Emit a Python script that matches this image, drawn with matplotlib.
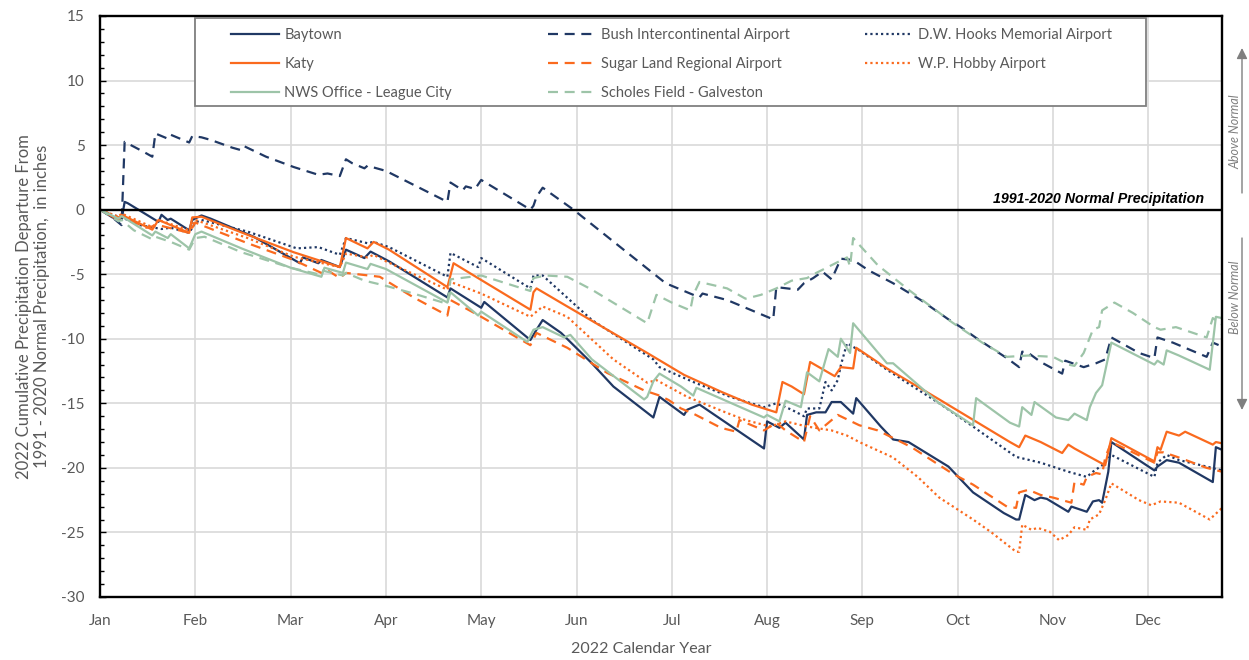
import matplotlib
matplotlib.use("Agg")
import matplotlib.pyplot as plt
from matplotlib.ticker import MultipleLocator
from matplotlib.patches import Rectangle
from matplotlib.legend import Legend

plt.rcParams['font.family'] = ['Lato', 'DejaVu Sans']
plt.rcParams['axes.unicode_minus'] = False

# day of year (0 = Jan 1) and departure from normal, inches
baytown_days = [0, 4, 7, 8, 9, 19, 20, 22, 23, 29, 30, 33, 36, 50, 65, 66, 71, 72, 78, 80, 86, 88, 94,
                113, 114, 124, 125, 140, 142, 144, 150, 160, 167, 180, 182, 190, 191, 195, 216, 217,
                221, 223, 229, 230, 233, 236, 238, 241, 245, 246, 254, 258, 263, 276, 284, 294, 298,
                299, 301, 304, 306, 308, 315, 316, 321, 323, 325, 326, 328, 329, 343, 344, 347, 351,
                362, 363, 365]
baytown = [0, -0.6, -0.8, 0.6, 0.5, -0.95, -0.4, -0.8, -0.7, -1.6, -0.8, -0.45, -0.7, -2.1, -4.15, -3.7,
           -4.15, -3.9, -4.45, -3.1, -3.75, -3.25, -4.0, -6.8, -6.1, -7.6, -7.15, -10.1, -9.3, -8.55,
           -9.55, -11.9, -13.7, -16.1, -14.5, -15.9, -15.5, -15.1, -18.5, -16.4, -16.9, -16.5, -17.8,
           -15.9, -15.7, -15.7, -14.9, -14.9, -15.8, -14.6, -16.8, -17.8, -18.0, -19.9, -21.9, -23.5,
           -24.0, -24.0, -22.1, -22.5, -22.3, -22.4, -23.4, -23.0, -23.4, -22.6, -22.5, -22.7, -20.3,
           -18.0, -20.2, -19.9, -19.4, -19.6, -21.1, -18.4, -18.6]

bush_days = [0, 4, 7, 8, 14, 17, 18, 22, 23, 29, 30, 33, 36, 43, 46, 47, 54, 63, 71, 74, 78, 80, 82, 86,
             87, 93, 113, 114, 118, 119, 122, 124, 140, 141, 142, 144, 154, 184, 195, 196, 204, 219,
             220, 227, 229, 232, 235, 238, 241, 245, 250, 258, 267, 276, 280, 286, 295, 299, 300, 302,
             306, 313, 314, 320, 324, 327, 329, 338, 343, 344, 349, 360, 362, 365]
bush = [0, -0.6, -1.2, 5.25, 4.5, 4.1, 5.9, 5.5, 5.8, 5.2, 5.7, 5.6, 5.4, 4.8, 4.6, 4.9, 4.1, 3.3, 2.7,
        2.8, 2.6, 3.9, 3.6, 3.2, 3.4, 3.0, 0.6, 2.1, 1.5, 1.8, 1.6, 2.3, 0.0, 0.3, 1.0, 1.7, 0.0, -5.7,
        -6.8, -6.5, -7.0, -8.5, -6.0, -6.2, -5.7, -5.3, -4.8, -5.4, -3.8, -3.9, -4.7, -5.7, -7.0, -8.5,
        -9.1, -10.1, -11.5, -12.2, -11.0, -11.1, -11.8, -12.7, -11.7, -12.2, -11.9, -11.6, -9.9, -11.1,
        -11.5, -9.9, -10.3, -11.4, -10.3, -10.6]

hooks_days = [0, 4, 7, 13, 20, 23, 29, 31, 33, 48, 64, 71, 78, 80, 87, 89, 94, 113, 114, 123, 124, 140,
              141, 144, 160, 180, 182, 193, 205, 216, 220, 225, 229, 230, 234, 236, 238, 240, 241, 243,
              247, 256, 273, 284, 298, 306, 315, 321, 323, 326, 329, 343, 344, 347, 351, 360, 365]
hooks = [0, -0.4, -0.6, -1.2, -1.5, -1.4, -1.8, -1.0, -0.8, -1.7, -3.0, -2.9, -3.5, -2.2, -2.6, -2.5,
         -2.9, -5.2, -3.35, -4.45, -3.75, -6.1, -5.1, -5.1, -8.55, -11.6, -12.2, -13.35, -14.5, -15.3,
         -15.0, -15.5, -16.0, -15.4, -15.4, -13.35, -14.0, -13.2, -12.05, -10.35, -10.9, -12.4, -15.0,
         -16.8, -19.15, -19.6, -20.3, -20.7, -20.3, -19.8, -19.0, -20.7, -19.6, -19.0, -19.4, -19.9,
         -20.2]

katy_days = [0, 6, 7, 17, 19, 23, 29, 30, 33, 48, 63, 78, 80, 87, 89, 94, 113, 115, 124, 140, 141, 142,
             152, 178, 190, 202, 212, 220, 222, 225, 229, 231, 239, 241, 245, 246, 256, 273, 296, 299,
             301, 306, 313, 315, 317, 327, 329, 343, 344, 345, 347, 351, 353, 362, 363, 365]
katy = [0, -0.8, -0.4, -1.55, -0.8, -1.2, -1.8, -0.6, -0.55, -1.95, -3.3, -4.45, -2.2, -3.0, -2.5, -3.1,
        -6.0, -4.15, -5.45, -7.75, -6.4, -6.1, -7.5, -11.1, -12.8, -14.1, -15.1, -15.7, -13.35, -13.7,
        -14.3, -11.8, -12.9, -12.2, -12.3, -10.7, -12.3, -14.7, -18.0, -18.4, -17.5, -18.0, -18.85,
        -18.2, -18.5, -19.8, -17.7, -19.5, -18.4, -18.6, -17.2, -17.5, -17.2, -18.2, -18.0, -18.1]

sugar_days = [0, 6, 7, 15, 19, 29, 31, 33, 48, 63, 72, 74, 78, 80, 91, 102, 113, 114, 124, 140, 142,
              152, 165, 177, 182, 185, 189, 193, 202, 207, 208, 216, 220, 223, 229, 231, 234, 238, 240,
              247, 253, 264, 277, 284, 295, 298, 299, 302, 306, 310, 316, 317, 320, 321, 324, 326, 327,
              329, 343, 344, 346, 351, 360, 365]
sugar = [0, -0.6, -0.5, -1.4, -1.2, -1.8, -1.0, -1.2, -2.6, -3.9, -4.9, -4.7, -5.3, -4.9, -5.2, -6.8,
         -8.2, -7.0, -8.3, -10.5, -9.55, -10.7, -12.65, -14.0, -14.4, -14.75, -15.4, -15.8, -16.9, -17.2,
         -16.3, -17.1, -16.5, -17.1, -18.0, -16.0, -17.1, -16.3, -15.9, -16.7, -17.1, -18.4, -20.4,
         -21.3, -23.0, -23.1, -21.9, -21.7, -22.1, -22.3, -22.7, -21.1, -21.3, -20.7, -20.4, -20.5,
         -19.2, -18.0, -19.6, -18.8, -18.8, -19.2, -20.0, -20.3]

hobby_days = [0, 6, 7, 17, 19, 29, 31, 48, 63, 78, 80, 87, 89, 93, 113, 114, 124, 140, 144, 152, 167,
              178, 181, 191, 204, 210, 218, 223, 230, 238, 243, 247, 258, 266, 273, 284, 290, 298, 299,
              300, 303, 305, 309, 312, 315, 317, 321, 322, 325, 327, 329, 338, 342, 345, 351, 361, 365]
hobby = [0, -0.55, -0.3, -1.35, -0.8, -1.6, -0.8, -2.2, -3.65, -4.45, -3.4, -3.7, -3.5, -4.0, -6.2, -5.6,
         -6.5, -8.3, -7.5, -8.3, -11.6, -13.4, -13.2, -14.5, -15.75, -16.3, -16.8, -16.4, -16.8, -17.1,
         -17.5, -18.0, -19.2, -20.7, -22.3, -24.0, -25.0, -26.5, -26.5, -24.4, -24.8, -24.65, -24.95,
         -25.6, -25.2, -24.6, -24.8, -24.0, -23.6, -22.5, -21.2, -22.5, -22.9, -22.6, -22.7, -24.0,
         -23.1]

nws_days = [0, 6, 7, 11, 17, 18, 22, 23, 29, 31, 33, 46, 62, 72, 73, 79, 80, 87, 88, 93, 113, 114, 123,
            124, 139, 141, 144, 151, 153, 160, 177, 178, 180, 182, 189, 193, 194, 216, 217, 221, 223,
            228, 230, 234, 237, 240, 241, 244, 245, 256, 258, 273, 284, 285, 296, 299, 300, 303, 304,
            311, 315, 317, 321, 322, 324, 326, 329, 343, 344, 346, 347, 351, 361, 363, 365]
nws = [0, -0.7, -0.5, -1.1, -2.0, -1.7, -2.2, -1.9, -3.0, -1.9, -1.7, -3.0, -4.5, -5.2, -4.5, -4.9, -4.1,
       -4.6, -4.2, -4.6, -7.2, -6.4, -8.2, -7.9, -10.25, -9.3, -9.1, -9.9, -9.7, -11.6, -14.7, -14.5,
       -13.3, -12.7, -13.7, -14.4, -13.8, -16.1, -15.9, -16.4, -14.8, -15.3, -12.6, -13.3, -10.8, -11.4,
       -10.0, -11.1, -8.8, -11.9, -11.9, -15.0, -16.7, -14.6, -16.5, -16.8, -15.3, -15.9, -14.9, -16.1,
       -16.3, -15.8, -16.3, -15.3, -14.2, -13.6, -10.3, -12.0, -11.7, -12.0, -10.9, -11.3, -12.4, -8.3,
       -8.4]

scholes_days = [0, 6, 7, 11, 17, 18, 23, 29, 31, 34, 46, 62, 71, 72, 79, 80, 86, 93, 102, 113, 114, 124,
                140, 141, 145, 152, 160, 178, 181, 186, 192, 193, 195, 204, 210, 215, 220, 225, 230, 233,
                238, 243, 244, 245, 253, 263, 277, 287, 295, 302, 310, 315, 317, 320, 321, 323, 325, 326,
                330, 336, 343, 345, 350, 360, 362, 365]
scholes = [0, -0.9, -0.8, -1.6, -2.3, -2.1, -2.5, -3.1, -2.2, -2.1, -3.3, -4.5, -5.0, -4.7, -5.1, -4.9,
           -5.5, -5.9, -6.5, -7.3, -5.4, -5.1, -6.3, -5.3, -5.1, -5.2, -6.2, -8.8, -6.6, -7.2, -7.8, -6.6,
           -5.6, -6.1, -6.9, -6.6, -6.1, -5.5, -5.3, -4.9, -4.3, -3.7, -4.4, -2.2, -4.3, -6.2, -8.7,
           -10.3, -11.4, -11.3, -11.4, -12.0, -12.1, -11.1, -10.5, -9.3, -9.1, -7.8, -7.2, -8.0, -9.1,
           -9.3, -9.1, -9.9, -8.4, -8.9]

month_ticks = [0, 31, 62, 93, 124, 155, 186, 217, 248, 279, 310, 341]
month_labels = ['Jan', 'Feb', 'Mar', 'Apr', 'May', 'Jun', 'Jul', 'Aug', 'Sep', 'Oct', 'Nov', 'Dec']

navy = '#203864'
orange = '#FA6A1E'
green = '#9DC4A8'
gray = '#595959'

fig = plt.figure(figsize=(12.49, 6.6), dpi=100)
ax = fig.add_axes([0.0801, 0.0955, 0.8983, 0.8803])

lw = 1.6
dash = (4.5, 3)
dot = (1, 1.4)

lines = []
lines += ax.plot(baytown_days, baytown, color=navy, lw=lw, label='Baytown')
lines += ax.plot(bush_days, bush, color=navy, dashes=dash, lw=lw, label='Bush Intercontinental Airport')
lines += ax.plot(hooks_days, hooks, color=navy, dashes=dot, lw=lw, label='D.W. Hooks Memorial Airport')
lines += ax.plot(katy_days, katy, color=orange, lw=lw, label='Katy')
lines += ax.plot(sugar_days, sugar, color=orange, dashes=dash, lw=lw, label='Sugar Land Regional Airport')
lines += ax.plot(hobby_days, hobby, color=orange, dashes=dot, lw=lw, label='W.P. Hobby Airport')
lines += ax.plot(nws_days, nws, color=green, lw=lw, label='NWS Office - League City')
lines += ax.plot(scholes_days, scholes, color=green, dashes=dash, lw=lw, label='Scholes Field - Galveston')

ax.axhline(0, color='black', lw=1.7, zorder=5)

ax.set_xlim(0, 365)
ax.set_ylim(-30, 15)
ax.set_xticks(month_ticks)
ax.set_xticklabels(month_labels)
ax.yaxis.set_major_locator(MultipleLocator(5))
ax.yaxis.set_minor_locator(MultipleLocator(1))
ax.grid(True, which='major', color='#D9D9D9', lw=1.2)
ax.set_axisbelow(True)
ax.tick_params(axis='x', length=0, pad=12, labelsize=11, labelcolor=gray)
ax.tick_params(axis='y', which='major', direction='in', length=4, width=1, pad=11,
               labelsize=11, labelcolor=gray)
ax.tick_params(axis='y', which='minor', direction='in', length=3, width=1)
for s in ax.spines.values():
    s.set_color('black')
    s.set_linewidth(1.7)

ax.set_xlabel('2022 Calendar Year', fontsize=11.5, color=gray)
ax.xaxis.set_label_coords(0.482, -0.077)
ax.set_ylabel('2022 Cumulative Precipitation Departure From\n1991 - 2020 Normal Precipitation,  in inches',
              fontsize=12, color=gray, labelpad=8)

# legend: framed box with three equally spaced columns
ax.add_patch(Rectangle((0.0847, 0.8451), 0.8476, 0.1515, transform=ax.transAxes, facecolor='white',
                       edgecolor='#808080', lw=1.3, zorder=6))
columns = [[0, 3, 6], [1, 4, 7], [2, 5]]
col_x = [0.1168, 0.3993, 0.6818]
for cx, idx in zip(col_x, columns):
    lg = Legend(ax, [lines[i] for i in idx], [lines[i].get_label() for i in idx],
                loc='upper left', bbox_to_anchor=(cx, 0.9793), bbox_transform=ax.transAxes,
                borderaxespad=0, borderpad=0, frameon=False, fontsize=10.5, handlelength=3.3,
                handletextpad=0.34, labelspacing=1.03, labelcolor=gray)
    lg.set_zorder(7)
    ax.add_artist(lg)

ax.text(0.984, 0.3, '1991-2020 Normal Precipitation', transform=ax.get_yaxis_transform(),
        ha='right', va='bottom', fontsize=10.3, fontweight='bold', fontstyle='italic',
        family=['Liberation Sans', 'DejaVu Sans'], color='black')

arrow_kw = dict(arrowstyle='-|>', color='#7F7F7F', lw=1, mutation_scale=16, shrinkA=0, shrinkB=0)
ax.annotate('', xy=(1242, 612), xytext=(1242, 467), xycoords='figure pixels',
            textcoords='figure pixels', arrowprops=arrow_kw, annotation_clip=False)
ax.annotate('', xy=(1242, 250), xytext=(1242, 422), xycoords='figure pixels',
            textcoords='figure pixels', arrowprops=arrow_kw, annotation_clip=False)
fig.text(1235 / 1249, 1 - 132 / 660, 'Above Normal', rotation=90, ha='center', va='center',
         fontsize=9, fontstyle='italic', color='#7F7F7F')
fig.text(1235 / 1249, 1 - 297 / 660, 'Below Normal', rotation=90, ha='center', va='center',
         fontsize=9, fontstyle='italic', color='#7F7F7F')

fig.savefig('out.png', dpi=100)
